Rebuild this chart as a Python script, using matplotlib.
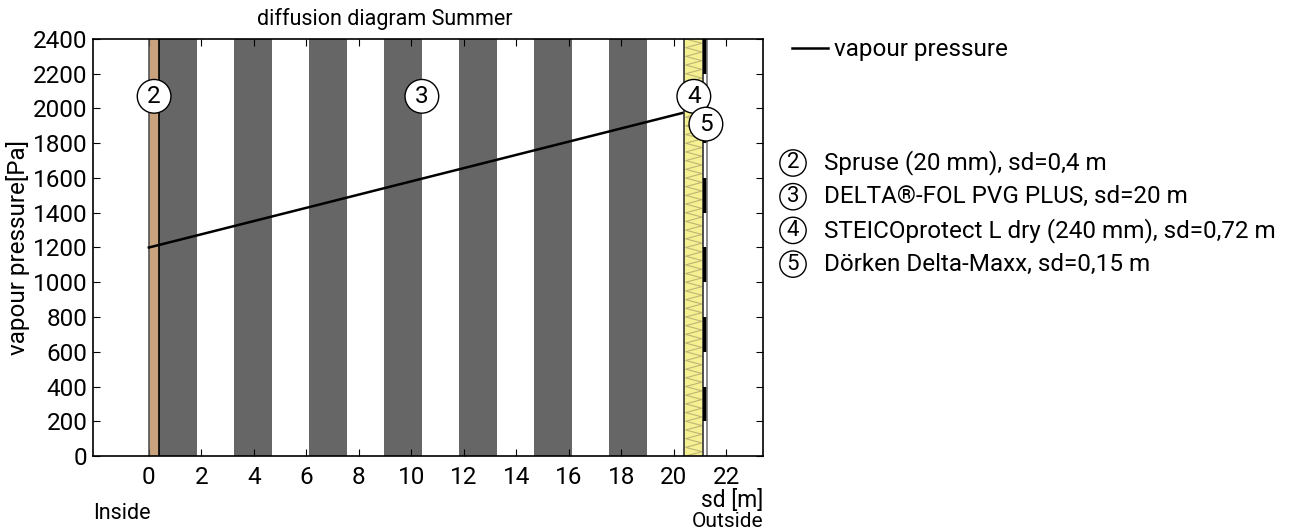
import matplotlib
matplotlib.use("Agg")
import matplotlib.pyplot as plt
import numpy as np

plt.rcParams['font.family'] = ['Roboto', 'DejaVu Sans']

# layers: name, sd [m]
layer_ids = ["2", "3", "4", "5"]
layer_names = ["Spruse (20 mm), sd=0,4 m",
               "DELTA®-FOL PVG PLUS, sd=20 m",
               "STEICOprotect L dry (240 mm), sd=0,72 m",
               "Dörken Delta-Maxx, sd=0,15 m"]
layer_sd = [0.4, 20.0, 0.72, 0.15]

# vapour pressure at the layer boundaries [Pa]
p_bounds = [1200, 1215, 1977, 2004, 2010]

x_ticks = list(range(0, 23, 2))
y_ticks = list(range(0, 2401, 200))

bounds = np.concatenate([[0], np.cumsum(layer_sd)])
total = bounds[-1]
ymax = 2400
fs = 17.5

fig = plt.figure(figsize=(12.92, 5.31), dpi=100)
ax = fig.add_axes([0.072, 0.1412, 0.5186, 0.7854])
ax.set_xlim(-0.1 * total, 1.1 * total)
ax.set_ylim(0, ymax)

# layer 2: spruce
ax.axvspan(bounds[0], bounds[1], color="#c9a27e", zorder=1, lw=0)
ax.axvline(bounds[0], color="#555555", lw=1.2, zorder=2)
ax.axvline(bounds[1], color="black", lw=1.2, zorder=2)

# layer 3: foil, striped
n_str = 14
w = (bounds[2] - bounds[1]) / n_str
for i in range(0, n_str, 2):
    ax.axvspan(bounds[1] + i * w, bounds[1] + (i + 1) * w, color="#666666", lw=0, zorder=1)

# vapour pressure line
vp_line, = ax.plot(bounds, p_bounds, color="black", lw=1.8, zorder=3)

# layer 4: insulation with zigzag
ax.axvspan(bounds[2], bounds[3], color="#f5f092", lw=0, zorder=4)
zy = np.arange(0, ymax + 1, 25)
zx = np.where(np.arange(len(zy)) % 2 == 0, bounds[2] + 0.05, bounds[3] - 0.05)
ax.plot(zx, zy, color="#bdb574", lw=0.8, zorder=4)
ax.axvline(bounds[2], color="#333333", lw=1.2, zorder=5)
ax.axvline(bounds[3], color="#333333", lw=1.2, zorder=5)

# layer 5: membrane
ax.axvspan(bounds[3], bounds[4], color="white", lw=0, zorder=4)
for y0 in range(200, ymax, 400):
    ax.axvspan(bounds[3], bounds[4], ymin=y0 / ymax, ymax=(y0 + 200) / ymax,
               color="black", lw=0, zorder=5)
ax.axvline(bounds[4], color="#777777", lw=1.2, zorder=5)

# circled numbers
circ = dict(boxstyle="circle,pad=0.22", fc="white", ec="black", lw=1)
lab_x = [(bounds[0] + bounds[1]) / 2, (bounds[1] + bounds[2]) / 2,
         (bounds[2] + bounds[3]) / 2, bounds[4] - 0.05]
lab_y = [2070, 2070, 2070, 1910]
for lid, lx, ly in zip(layer_ids, lab_x, lab_y):
    ax.text(lx, ly, lid, ha="center", va="center", fontsize=fs, bbox=circ, zorder=10)

ax.set_xticks(x_ticks)
ax.set_yticks(y_ticks)
ax.tick_params(direction="in", length=5, top=True, right=True, labelsize=fs, pad=7)
ax.tick_params(axis="y", pad=4)
for s in ax.spines.values():
    s.set_linewidth(1.2)
    s.set_zorder(11)

fig.text(385 / 1292, 0.952, "diffusion diagram Summer", ha="center", fontsize=15.5)
ax.set_ylabel("vapour pressure[Pa]", fontsize=fs, labelpad=2)

fig.text(0.5906, 0.046, "sd [m]", ha="right", fontsize=16.5)
fig.text(0.5906, 0.007, "Outside", ha="right", fontsize=15)
fig.text(0.072, 0.022, "Inside", ha="left", fontsize=15.5)

# legend
fig.legend(handles=[vp_line], labels=["vapour pressure"], loc="upper left",
           bbox_to_anchor=(0.596, 0.969), frameon=False, fontsize=fs,
           handlelength=1.5, handletextpad=0.25)

circ2 = dict(boxstyle="circle,pad=0.12", fc="white", ec="black", lw=1)
for i, (lid, name) in enumerate(zip(layer_ids, layer_names)):
    yy = 1 - (163 + i * 33.7) / 531
    fig.text(793 / 1292, yy, lid, ha="center", va="center", fontsize=16, bbox=circ2)
    fig.text(824 / 1292, yy, name, ha="left", va="center", fontsize=fs)

fig.savefig("out.png", dpi=100)
